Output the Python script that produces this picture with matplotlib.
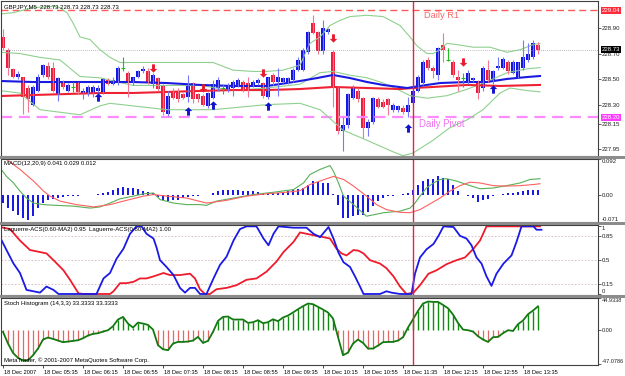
import numpy as np
import matplotlib
matplotlib.use('Agg')
import matplotlib.pyplot as plt
from matplotlib.path import Path
from matplotlib.patches import Rectangle

plt.rcParams['font.family'] = ['Liberation Sans', 'DejaVu Sans']

# GBPJPY M5 candles
opens = [228.83, 228.73, 228.58, 228.52, 228.52, 228.43, 228.30, 228.41, 228.53, 228.60,
         228.59, 228.38, 228.48, 228.41, 228.44, 228.47, 228.38, 228.38, 228.38, 228.41,
         228.40, 228.49, 228.46, 228.47, 228.59, 228.55, 228.47, 228.52, 228.56, 228.56,
         228.46, 228.51, 228.45, 228.23, 228.41, 228.41, 228.38, 228.36, 228.47, 228.38,
         228.37, 228.29, 228.35, 228.43, 228.43, 228.41, 228.43, 228.45, 228.48, 228.47,
         228.45, 228.47, 228.47, 228.36, 228.53, 228.48, 228.48, 228.48, 228.49, 228.57,
         228.57, 228.71, 228.94, 228.87, 228.72, 228.87, 228.71, 228.43, 228.09, 228.14,
         228.35, 228.41, 228.35, 228.12, 228.16, 228.34, 228.32, 228.34, 228.26, 228.26,
         228.27, 228.24, 228.31, 228.41, 228.47, 228.65, 228.59, 228.53, 228.77, 228.65,
         228.63, 228.52, 228.51, 228.48, 228.49, 228.48, 228.43, 228.57, 228.49, 228.59,
         228.59, 228.63, 228.55, 228.52, 228.59, 228.65, 228.67, 228.77]
closes = [228.74, 228.59, 228.52, 228.54, 228.36, 228.34, 228.44, 228.52, 228.61, 228.52,
          228.41, 228.51, 228.44, 228.45, 228.44, 228.40, 228.41, 228.44, 228.44, 228.43,
          228.50, 228.46, 228.49, 228.59, 228.59, 228.48, 228.52, 228.56, 228.58, 228.48,
          228.53, 228.42, 228.24, 228.37, 228.35, 228.34, 228.35, 228.45, 228.34, 228.34,
          228.30, 228.39, 228.46, 228.49, 228.43, 228.45, 228.48, 228.49, 228.42, 228.41,
          228.48, 228.49, 228.37, 228.52, 228.48, 228.52, 228.51, 228.51, 228.57, 228.65,
          228.73, 228.87, 228.86, 228.72, 228.90, 228.89, 228.44, 228.09, 228.14, 228.38,
          228.43, 228.34, 228.12, 228.16, 228.35, 228.28, 228.28, 228.30, 228.30, 228.29,
          228.24, 228.30, 228.41, 228.52, 228.63, 228.59, 228.56, 228.74, 228.73, 228.65,
          228.53, 228.49, 228.51, 228.55, 228.51, 228.39, 228.59, 228.49, 228.56, 228.60,
          228.66, 228.56, 228.63, 228.63, 228.67, 228.70, 228.78, 228.73]
highs = [228.89, 228.74, 228.59, 228.56, 228.52, 228.45, 228.45, 228.54, 228.62, 228.63,
         228.63, 228.52, 228.49, 228.47, 228.48, 228.48, 228.43, 228.45, 228.45, 228.45,
         228.51, 228.51, 228.52, 228.60, 228.67, 228.56, 228.52, 228.57, 228.60, 228.59,
         228.55, 228.52, 228.46, 228.41, 228.43, 228.43, 228.39, 228.53, 228.48, 228.39,
         228.38, 228.40, 228.49, 228.52, 228.46, 228.47, 228.49, 228.51, 228.49, 228.52,
         228.49, 228.51, 228.48, 228.52, 228.55, 228.59, 228.52, 228.52, 228.59, 228.67,
         228.74, 228.88, 229.00, 228.88, 228.96, 228.90, 228.73, 228.44, 228.20, 228.39,
         228.45, 228.43, 228.36, 228.19, 228.36, 228.36, 228.34, 228.35, 228.31, 228.30,
         228.30, 228.36, 228.49, 228.53, 228.65, 228.67, 228.60, 228.75, 228.86, 228.74,
         228.65, 228.57, 228.55, 228.57, 228.52, 228.49, 228.60, 228.65, 228.57, 228.67,
         228.67, 228.65, 228.65, 228.63, 228.81, 228.78, 228.81, 228.79]
lows = [228.73, 228.53, 228.51, 228.50, 228.23, 228.24, 228.29, 228.40, 228.52, 228.50,
        228.40, 228.33, 228.42, 228.40, 228.40, 228.38, 228.34, 228.37, 228.36, 228.39,
        228.38, 228.45, 228.45, 228.45, 228.56, 228.36, 228.45, 228.51, 228.55, 228.46,
        228.43, 228.41, 228.22, 228.21, 228.34, 228.32, 228.34, 228.32, 228.31, 228.32,
        228.29, 228.27, 228.34, 228.41, 228.38, 228.40, 228.37, 228.44, 228.40, 228.36,
        228.44, 228.45, 228.35, 228.34, 228.45, 228.37, 228.47, 228.46, 228.48, 228.56,
        228.56, 228.70, 228.85, 228.70, 228.70, 228.85, 228.28, 228.07, 227.94, 228.12,
        228.34, 228.32, 228.04, 228.05, 228.15, 228.27, 228.27, 228.22, 228.24, 228.24,
        228.23, 228.20, 228.30, 228.40, 228.45, 228.57, 228.51, 228.49, 228.63, 228.64,
        228.52, 228.41, 228.44, 228.46, 228.48, 228.34, 228.41, 228.48, 228.46, 228.57,
        228.58, 228.54, 228.54, 228.51, 228.57, 228.63, 228.66, 228.70]

# moving averages and bollinger bands (bar index, price)
ma_blue_x = [-0.6, 6, 12.8, 19.4, 26, 32.8, 39.4, 46, 52.8, 56.8, 59.4, 62.8, 66, 69.4, 72.8, 76, 80.8, 83.4, 87.4, 92.8, 96.8, 100.8, 104.8, 107.4]
ma_blue_y = [228.485, 228.477, 228.477, 228.477, 228.477, 228.469, 228.454, 228.446, 228.446, 228.469, 228.485, 228.508, 228.532, 228.508, 228.477, 228.454, 228.430, 228.446, 228.469, 228.477, 228.477, 228.501, 228.516, 228.524]
ma_red_x = [-0.6, 6, 12.8, 19.4, 26, 32.8, 39.4, 46, 52.8, 59.4, 66, 72.8, 79.4, 82, 86, 92.8, 99.4, 107.4]
ma_red_y = [228.367, 228.375, 228.383, 228.391, 228.391, 228.399, 228.407, 228.414, 228.414, 228.422, 228.438, 228.430, 228.422, 228.430, 228.438, 228.454, 228.446, 228.454]

bb_up_x = [-0.6, 2, 6, 10, 11.4, 12.8, 14, 15.4, 17.4, 19.4, 21.4, 23.4, 26, 30, 34, 39.4, 42, 46, 50, 52.8, 56, 59.4, 61.4, 63.4, 65.4, 67.4, 69.4, 72.8, 76, 79.4, 81.4, 82.8, 84.8, 86, 87.4, 88.8, 90.8, 94, 97.4, 100.8, 103.4, 106, 107.4]
bb_up_y = [229.01, 229.02, 229.06, 229.07, 229.06, 229.02, 228.94, 228.83, 228.81, 228.73, 228.67, 228.63, 228.63, 228.63, 228.63, 228.63, 228.63, 228.57, 228.56, 228.56, 228.57, 228.61, 228.78, 228.83, 228.92, 228.96, 228.99, 229.00, 228.99, 228.92, 228.83, 228.76, 228.70, 228.70, 228.73, 228.78, 228.77, 228.75, 228.75, 228.71, 228.73, 228.77, 228.78]
bb_mid_x = [-0.6, 3.4, 7.4, 11.4, 15.4, 19.4, 26, 32.8, 39.4, 46, 52.8, 59.4, 63.4, 66, 69.4, 72.8, 76, 79.4, 81.4, 84.8, 88.8, 92.8, 96.8, 100.8, 104.8, 107.4]
bb_mid_y = [228.71, 228.70, 228.67, 228.65, 228.52, 228.51, 228.45, 228.45, 228.45, 228.41, 228.43, 228.46, 228.55, 228.56, 228.53, 228.51, 228.47, 228.41, 228.37, 228.35, 228.37, 228.42, 228.48, 228.55, 228.58, 228.59]
bb_lo_x = [-0.6, 3.4, 7.4, 15.4, 19.4, 21.4, 32.8, 42, 52.8, 59.4, 63.4, 68, 72.8, 78, 80, 82, 86, 89.4, 92.8, 96, 99.4, 101.4, 104.8, 107.4]
bb_lo_y = [228.41, 228.39, 228.26, 228.22, 228.29, 228.31, 228.26, 228.26, 228.30, 228.31, 228.26, 228.10, 228.02, 227.93, 227.90, 227.92, 228.02, 228.12, 228.18, 228.26, 228.39, 228.43, 228.41, 228.40]

# signal arrows
buy_idx = [19, 37, 42, 53, 81, 98]
buy_px = [228.36, 228.25, 228.30, 228.29, 228.12, 228.42]
sell_idx = [30, 40, 52, 66, 92]
sell_px = [228.59, 228.43, 228.55, 228.82, 228.63]

# levels
r1_level = 229.04
pivot_level = 228.20
last_price = 228.73
vline_bar = 82

# MACD(12,20,9)
macd_hist = [-0.022, -0.035, -0.043, -0.052, -0.060, -0.066, -0.056, -0.035, -0.022, -0.015,
             -0.011, -0.009, -0.006, -0.004, -0.003, -0.003, -0.002, -0.001, 0.000, 0.002,
             0.004, 0.007, 0.011, 0.016, 0.019, 0.017, 0.016, 0.014, 0.010, 0.007,
             0.004, -0.006, -0.013, -0.016, -0.015, -0.013, -0.010, -0.007, -0.004, -0.003,
             -0.002, -0.001, 0.003, 0.008, 0.011, 0.012, 0.013, 0.013, 0.010, 0.009,
             0.008, 0.006, 0.004, 0.004, 0.004, 0.005, 0.006, 0.008, 0.011, 0.015,
             0.018, 0.026, 0.036, 0.033, 0.030, 0.029, 0.002, -0.026, -0.060, -0.060,
             -0.056, -0.053, -0.052, -0.046, -0.030, -0.017, -0.009, -0.004, -0.003, -0.002,
             0.002, 0.004, 0.013, 0.026, 0.035, 0.039, 0.039, 0.047, 0.044, 0.039,
             0.026, 0.009, 0.000, -0.004, -0.009, -0.020, -0.013, -0.011, -0.004, -0.002,
             0.002, 0.004, 0.004, 0.006, 0.009, 0.011, 0.013, 0.012]
macd_main_x = [-0.6, 0.7, 2.1, 3.4, 4.7, 6.1, 8.1, 10.7, 14.1, 17.4, 19.4, 21.4, 23.4, 26.1, 28.1, 30.1, 31.4, 34.1, 36.7, 39.4, 40.7, 42.7, 46.1, 50.1, 54.1, 58.1, 60.1, 61.4, 63.4, 65.4, 66.1, 67.1, 68.1, 70.1, 72.7, 76.1, 79.4, 81.4, 82.4, 83.4, 84.7, 86.1, 87.4, 88.7, 90.7, 92.7, 95.4, 98.1, 100.7, 103.4, 105.4, 107.4]
macd_main_y = [0.069, 0.047, 0.030, 0.009, -0.009, -0.022, -0.026, -0.028, -0.030, -0.035, -0.032, -0.022, -0.011, -0.004, 0.002, 0.004, -0.013, -0.022, -0.026, -0.026, -0.028, -0.017, -0.009, 0.000, 0.006, 0.013, 0.030, 0.052, 0.065, 0.075, 0.060, 0.030, -0.004, -0.026, -0.056, -0.047, -0.043, -0.035, -0.022, -0.004, 0.017, 0.030, 0.039, 0.041, 0.035, 0.026, 0.015, 0.017, 0.023, 0.030, 0.039, 0.041]
macd_sig_x = [-0.6, 0.7, 3.4, 6.1, 8.1, 9.4, 11.4, 14.7, 18.1, 21.4, 24.7, 28.1, 30.1, 32.7, 36.7, 40.7, 44.7, 48.7, 52.7, 56.7, 59.4, 61.4, 63.4, 66.1, 68.1, 70.1, 72.7, 74.7, 76.7, 79.4, 81.4, 83.4, 85.4, 87.4, 89.4, 91.4, 93.4, 95.4, 98.1, 100.7, 103.4, 106.1, 107.4]
macd_sig_y = [0.093, 0.091, 0.065, 0.035, 0.009, -0.004, -0.017, -0.026, -0.032, -0.026, -0.015, -0.004, 0.000, -0.004, -0.009, -0.022, -0.015, -0.004, 0.002, 0.006, 0.010, 0.026, 0.035, 0.047, 0.039, 0.022, -0.004, -0.026, -0.039, -0.046, -0.047, -0.039, -0.024, -0.009, 0.009, 0.023, 0.032, 0.030, 0.023, 0.022, 0.023, 0.026, 0.028]

# Laguerre-ACS 0.60 (blue) and 0.80 (red)
lag_fast_x = [-0.6, 0.7, 2.1, 3.4, 4.7, 6.1, 7.4, 8.7, 10.1, 11.1, 18.7, 20.1, 21.4, 22.7, 24.1, 25.4, 26.7, 27.7, 28.7, 30.1, 30.7, 31.4, 32.7, 34.1, 35.4, 36.4, 37.4, 38.4, 39.4, 40.7, 42.1, 43.4, 44.7, 46.1, 47.4, 48.7, 50.7, 52.1, 53.1, 54.1, 55.1, 58.1, 60.7, 62.1, 63.4, 65.1, 66.1, 67.1, 68.1, 69.4, 70.4, 71.4, 72.1, 75.4, 76.7, 77.7, 79.4, 81.7, 82.4, 83.4, 84.7, 86.1, 87.1, 88.1, 90.1, 91.4, 92.7, 93.7, 94.7, 95.7, 96.7, 97.7, 98.7, 100.1, 101.7, 102.7, 103.7, 106.1, 106.7, 107.7]
lag_fast_y = [0.84, 0.65, 0.45, 0.31, 0.06, 0.04, 0.02, 0.11, 0.06, 0.0, 0.0, 0.23, 0.31, 0.52, 0.67, 0.89, 1.0, 1.0, 0.89, 0.82, 0.69, 0.50, 0.40, 0.28, 0.09, 0.02, 0.09, 0.09, 0.0, 0.0, 0.23, 0.43, 0.55, 0.79, 0.96, 1.0, 1.0, 0.82, 0.72, 0.89, 1.0, 0.98, 0.98, 0.89, 0.84, 0.99, 0.82, 0.61, 0.47, 0.40, 0.26, 0.11, 0.0, 0.0, 0.04, 0.02, 0.0, 0.0, 0.30, 0.54, 0.66, 0.74, 0.86, 1.0, 0.99, 0.86, 0.82, 0.72, 0.54, 0.45, 0.26, 0.12, 0.30, 0.45, 0.57, 0.77, 1.0, 1.0, 0.95, 0.95]
lag_slow_x = [-0.6, 1.4, 3.4, 5.4, 7.4, 8.7, 10.1, 12.1, 13.4, 15.1, 16.1, 21.4, 22.1, 23.4, 24.7, 26.1, 27.4, 28.7, 30.1, 32.1, 33.4, 35.4, 37.4, 38.4, 39.4, 40.4, 41.4, 42.7, 44.7, 46.7, 48.7, 50.7, 52.7, 54.7, 56.1, 58.1, 59.4, 60.7, 62.7, 64.1, 65.4, 66.7, 67.7, 68.7, 70.1, 71.1, 72.1, 73.4, 75.4, 76.7, 78.1, 79.4, 80.7, 82.1, 83.4, 85.1, 86.7, 88.7, 90.7, 92.4, 94.1, 95.4, 96.7, 107.4]
lag_slow_y = [0.99, 0.96, 0.79, 0.65, 0.62, 0.60, 0.50, 0.35, 0.21, 0.01, 0.0, 0.0, 0.04, 0.16, 0.16, 0.18, 0.23, 0.23, 0.26, 0.31, 0.28, 0.28, 0.30, 0.23, 0.07, 0.0, 0.0, 0.07, 0.09, 0.13, 0.21, 0.23, 0.33, 0.48, 0.62, 0.77, 0.91, 0.89, 0.86, 0.84, 0.82, 0.67, 0.60, 0.57, 0.65, 0.64, 0.60, 0.50, 0.45, 0.38, 0.26, 0.11, 0.0, 0.02, 0.13, 0.30, 0.35, 0.44, 0.50, 0.54, 0.67, 0.79, 1.0, 1.0]
lag_levels = [0.85, 0.5, 0.15]

# Stoch histogram (14,3,3)
stoch = [-2.3, -18.6, -31.6, -38.6, -42.3, -41.9, -34.9, -25.6, -13.0, -10.2,
         -12.1, -14.4, -16.7, -15.8, -14.9, -14.0, -11.2, -7.4, -5.1, -4.2,
         -1.9, 0.0, 5.6, 14.9, 18.6, 9.3, 3.7, 10.7, 9.3, 7.4,
         0.9, -20.9, -26.5, -27.9, -18.6, -16.3, -16.3, -15.8, -14.4, -9.3,
         -17.7, -14.9, -2.3, 13.0, 18.6, 19.1, 14.9, 14.9, 14.9, 10.2,
         11.2, 14.0, 9.8, 11.2, 15.3, 12.6, 17.7, 20.5, 24.7, 29.3,
         33.5, 37.2, 36.3, 32.6, 28.8, 24.7, 16.3, -9.3, -34.9, -31.2,
         -18.6, -13.0, -17.7, -25.6, -25.6, -21.4, -16.7, -16.3, -16.3, -14.4,
         -9.8, 3.7, 15.3, 27.0, 37.2, 40.0, 39.5, 39.5, 35.3, 30.7,
         21.9, 10.2, 0.9, 0.0, -1.9, -8.4, -13.0, -16.3, -9.8, -9.3,
         -4.2, 0.0, -1.0, 8.4, 13.5, 22.3, 27.4, 33.3]

time_labels = ['18 Dec 2007', '18 Dec 05:35', '18 Dec 06:15', '18 Dec 06:55', '18 Dec 07:35',
               '18 Dec 08:15', '18 Dec 08:55', '18 Dec 09:35', '18 Dec 10:15', '18 Dec 10:55',
               '18 Dec 11:35', '18 Dec 12:15', '18 Dec 12:55', '18 Dec 13:35']
time_bars = [0, 8, 16, 24, 32, 40, 48, 56, 64, 72, 80, 88, 96, 104]

BULL = '#1414e6'
BEAR = '#ee1c3c'
DOJI = '#22bb22'
W, H = 625, 376
XLIM = (-0.4, 119.0)
SMALL = 4.3

fig = plt.figure(figsize=(W / 100, H / 100), dpi=100)
fig.patch.set_facecolor('white')


def pane(top, bot):
    ax = fig.add_axes([1 / W, 1 - bot / H, 597 / W, (bot - top) / H])
    ax.set_xlim(*XLIM)
    for s in ax.spines.values():
        s.set_color('#404040')
        s.set_linewidth(0.8)
    ax.yaxis.tick_right()
    ax.tick_params(axis='y', length=1.8, width=0.5, pad=1.0, labelsize=SMALL, colors='#202020')
    ax.tick_params(axis='x', length=0, labelbottom=False)
    return ax


def edge_labels(ax, top=None, bottom=None):
    for t in ax.get_yticklabels():
        if top is not None and t.get_text() == top:
            t.set_va('top')
        if bottom is not None and t.get_text() == bottom:
            t.set_va('bottom')


ax1 = pane(1, 156)
ax2 = pane(159, 222)
ax3 = pane(225, 295)
ax4 = pane(298, 365)

for y0, y1 in [(156, 159), (222, 225), (295, 298)]:
    fig.patches.append(Rectangle((0, 1 - y1 / H), 1, (y1 - y0) / H, transform=fig.transFigure,
                                 facecolor='#8c8c8c', edgecolor='none'))

# ---- price pane
o = np.array(opens); c = np.array(closes); h = np.array(highs); l = np.array(lows)
x = np.arange(len(o))
up = c > o
dn = c < o
dj = c == o
ax1.set_ylim(227.897, 229.112)

ax1.axhline(r1_level, color='#ff5a5a', lw=1.0, ls=(0, (5, 3)))
ax1.axhline(pivot_level, color='#ff8cff', lw=1.6, ls=(0, (5, 3)))
ax1.axhline(last_price, color='#a0a0a0', lw=0.6, ls=(0, (1, 1.5)))

ax1.plot(bb_up_x, bb_up_y, color='#8fd08f', lw=0.8)
ax1.plot(bb_mid_x, bb_mid_y, color='#8fd08f', lw=0.8)
ax1.plot(bb_lo_x, bb_lo_y, color='#8fd08f', lw=0.8)
ax1.plot(ma_red_x, ma_red_y, color='#ee2233', lw=1.5)
ax1.plot(ma_blue_x, ma_blue_y, color='#1a1ae0', lw=1.5)

ax1.vlines(x[up], l[up], h[up], color='#7878ff', lw=0.8)
ax1.vlines(x[dn], l[dn], h[dn], color='#f07890', lw=0.8)
ax1.vlines(x[dj], l[dj], h[dj], color=DOJI, lw=0.8)
ax1.bar(x[up], c[up] - o[up], bottom=o[up], width=0.62, color=BULL, lw=0)
ax1.bar(x[dn], o[dn] - c[dn], bottom=c[dn], width=0.62, color=BEAR, lw=0)
ax1.hlines(o[dj], x[dj] - 0.35, x[dj] + 0.35, color=DOJI, lw=0.8)

arrow_up = Path([(0, 1), (0.9, 0.1), (0.35, 0.1), (0.35, -1), (-0.35, -1), (-0.35, 0.1), (-0.9, 0.1), (0, 1)], closed=True)
arrow_dn = Path([(0, -1), (0.9, -0.1), (0.35, -0.1), (0.35, 1), (-0.35, 1), (-0.35, -0.1), (-0.9, -0.1), (0, -1)], closed=True)
ax1.plot(buy_idx, buy_px, ls='none', marker=arrow_up, ms=6, color='#1010d0', mew=0)
ax1.plot(sell_idx, sell_px, ls='none', marker=arrow_dn, ms=6, color='#e81a2e', mew=0)

ax1.set_yticks([228.90, 228.70, 228.50, 228.30, 228.15, 227.95],
               ['228.90', '228.70', '228.50', '228.30', '228.15', '227.95'])
for lvl, txt, bg in [(r1_level, '229.04', '#ff2a3a'), (last_price, '228.73', '#000000'),
                     (pivot_level, '228.20', '#ff3cff')]:
    ax1.annotate(txt, (1, lvl), xycoords=ax1.get_yaxis_transform(), xytext=(2.6, 0),
                 textcoords='offset points', va='center', ha='left', fontsize=SMALL, color='white',
                 bbox=dict(boxstyle='square,pad=0.15', fc=bg, ec='none'), annotation_clip=False)

fig.text(424 / W, 1 - 16 / H, 'Daily R1', fontsize=6.7, color='#f26b6b', va='center', ha='left')
fig.text(419 / W, 1 - 124 / H, 'Daily Pivot', fontsize=6.9, color='#ee70ee', va='center', ha='left')
fig.text(4 / W, 1 - 7 / H, 'GBPJPY,M5  228.73 228.73 228.73 228.73', fontsize=SMALL, va='center')

# ---- MACD pane
ax2.set_ylim(-0.071, 0.092)
ax2.bar(x, macd_hist, width=0.4, color='#1a1ae6', lw=0)
ax2.plot(macd_main_x, macd_main_y, color='#58b058', lw=0.8)
ax2.plot(macd_sig_x, macd_sig_y, color='#ff6060', lw=0.8)
ax2.set_yticks([0.092, 0.0, -0.071], ['0.092', '0.00', '-0.071'])
edge_labels(ax2, '0.092', '-0.071')
fig.text(4 / W, 1 - 164 / H, 'MACD(12,20,9) 0.041 0.029 0.012', fontsize=SMALL, va='center')

# ---- Laguerre pane
ax3.set_ylim(-0.015, 1.02)
for lv in lag_levels:
    ax3.axhline(lv, color='#d8b8b8', lw=0.6, ls=(0, (2, 2)))
ax3.plot(lag_slow_x, lag_slow_y, color='#ee1c2c', lw=1.3)
ax3.plot(lag_fast_x, lag_fast_y, color='#1a1ae6', lw=1.3)
ax3.set_yticks([1, 0.85, 0.5, 0.15, 0], ['1', '0.85', '0.5', '0.15', '0'])
edge_labels(ax3, '1', '0')
fig.text(4 / W, 1 - 230 / H, 'Laguerre-ACS(0.60-MA2) 0.95  Laguerre-ACS(0.80-MA2) 1.00',
         fontsize=SMALL, va='center')

# ---- Stoch histogram pane
st = np.array(stoch)
ax4.set_ylim(-48.5, 44.93)
pos = st >= 0
ax4.vlines(x[pos], 0, st[pos], color='#138a13', lw=1.0)
ax4.vlines(x[~pos], 0, st[~pos], color='#e06868', lw=0.9)
ax4.plot(x, st, color='#117a11', lw=1.3)
ax4.set_yticks([44.9338, 0.0, -47.0786], ['44.9338', '0.00', '-47.0786'])
ax4.tick_params(axis='y', labelsize=4.0)
edge_labels(ax4, '44.9338', '-47.0786')
ax4.set_xticks(time_bars)
ax4.tick_params(axis='x', length=2.5, width=0.5, direction='out', labelbottom=False)
for b, lab in zip(time_bars, time_labels):
    ax4.annotate(lab, (b, 0), xycoords=ax4.get_xaxis_transform(), xytext=(0.5, -5.5),
                 textcoords='offset points', ha='left', va='center', fontsize=4.1,
                 annotation_clip=False)
fig.text(4 / W, 1 - 303 / H, 'Stoch Histogram (14,3,3) 33.3333 33.3333', fontsize=SMALL, va='center')
fig.text(4 / W, 1 - 360 / H, 'MetaTrader, \u00a9 2001-2007 MetaQuotes Software Corp.',
         fontsize=SMALL, va='center')

for ax in (ax1, ax2, ax3, ax4):
    ax.axvline(vline_bar, color='#e8204a', lw=1.0)

fig.savefig('out.png', dpi=100, facecolor='white')
